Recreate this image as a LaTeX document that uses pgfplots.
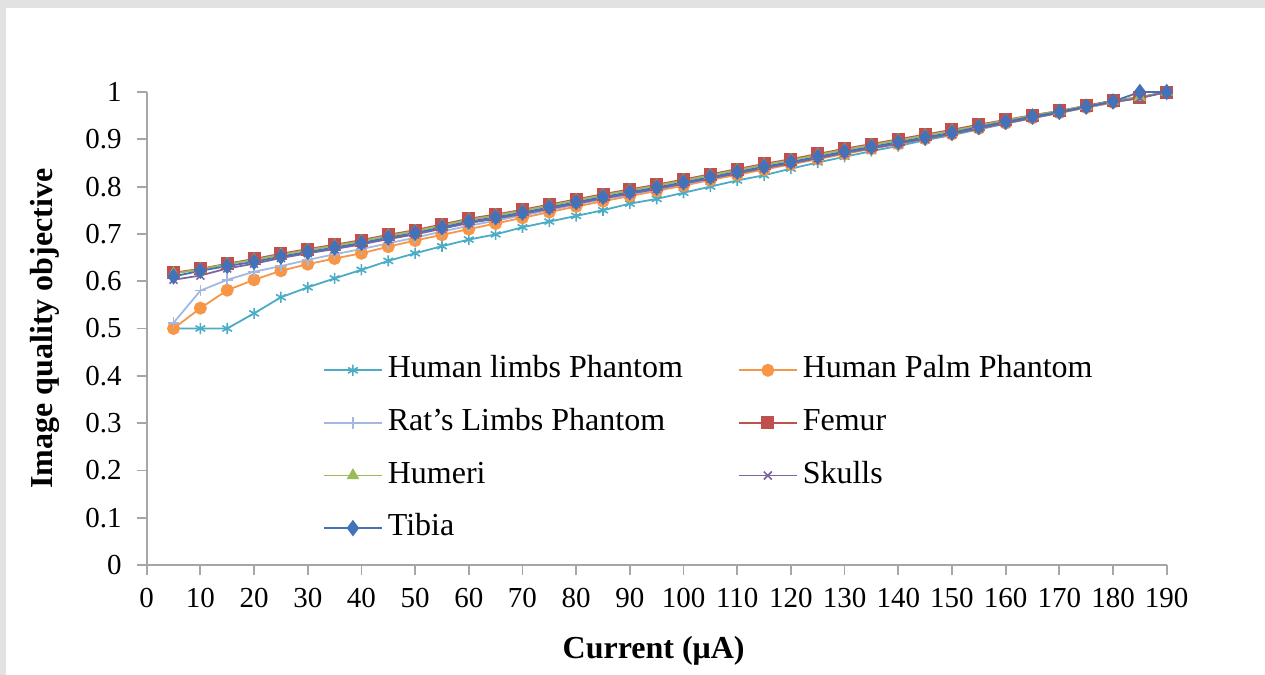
\documentclass[border=0pt]{standalone}
\usepackage{pgfplots}
\pgfplotsset{compat=1.18}
\usepackage{pgfplotstable}
\usepackage{fontspec}
\setmainfont{Liberation Serif}
\definecolor{cHL}{HTML}{4BACC6}
\definecolor{cHP}{HTML}{F79646}
\definecolor{cRat}{HTML}{A2B8E1}
\definecolor{cFem}{HTML}{C0504D}
\definecolor{cHum}{HTML}{9BBB59}
\definecolor{cSk}{HTML}{8064A2}
\definecolor{cTib}{HTML}{4472B8}
\definecolor{axgray}{HTML}{A6A6A6}
\definecolor{bordergray}{HTML}{E2E2E2}
\pgfplotstableread{
x   hl    hp    rat   fem   hum   sk    tib
5   0.500 0.500 0.512 0.618 0.616 0.603 0.610
10  0.500 0.543 0.580 0.626 0.625 0.612 0.622
15  0.500 0.581 0.603 0.637 0.636 0.627 0.632
20  0.532 0.603 0.620 0.647 0.645 0.637 0.641
25  0.566 0.622 0.632 0.658 0.656 0.649 0.652
30  0.587 0.636 0.645 0.668 0.666 0.659 0.662
35  0.606 0.648 0.657 0.677 0.675 0.668 0.671
40  0.624 0.659 0.668 0.687 0.685 0.678 0.681
45  0.643 0.673 0.680 0.698 0.696 0.689 0.692
50  0.659 0.686 0.692 0.708 0.706 0.699 0.702
55  0.674 0.698 0.705 0.720 0.718 0.711 0.714
60  0.688 0.710 0.717 0.732 0.730 0.723 0.726
65  0.699 0.722 0.728 0.741 0.739 0.732 0.735
70  0.714 0.734 0.739 0.751 0.749 0.742 0.745
75  0.726 0.746 0.750 0.762 0.760 0.753 0.756
80  0.738 0.758 0.762 0.773 0.771 0.764 0.767
85  0.750 0.769 0.773 0.784 0.782 0.775 0.778
90  0.764 0.780 0.783 0.794 0.792 0.785 0.788
95  0.774 0.791 0.794 0.804 0.802 0.795 0.798
100 0.787 0.802 0.805 0.815 0.813 0.806 0.809
105 0.800 0.814 0.816 0.826 0.824 0.817 0.820
110 0.813 0.825 0.828 0.837 0.835 0.828 0.831
115 0.824 0.836 0.840 0.848 0.846 0.839 0.842
120 0.838 0.847 0.850 0.858 0.856 0.849 0.852
125 0.851 0.858 0.861 0.869 0.867 0.860 0.863
130 0.863 0.869 0.872 0.880 0.878 0.871 0.874
135 0.875 0.880 0.882 0.890 0.888 0.881 0.884
140 0.886 0.890 0.892 0.900 0.898 0.891 0.894
145 0.898 0.901 0.902 0.910 0.908 0.901 0.904
150 0.909 0.911 0.912 0.920 0.918 0.911 0.914
155 0.921 0.923 0.924 0.931 0.929 0.923 0.926
160 0.933 0.934 0.935 0.941 0.940 0.934 0.937
165 0.945 0.945 0.946 0.951 0.950 0.945 0.948
170 0.956 0.956 0.957 0.960 0.960 0.956 0.958
175 0.967 0.967 0.968 0.971 0.970 0.968 0.969
180 0.978 0.978 0.979 0.982 0.981 0.979 0.980
185 0.988 0.988 0.988 0.989 0.989 0.987 1.000
190 1.000 1.000 1.000 1.000 1.000 1.000 1.000
}\datatable
\begin{document}
\begin{tikzpicture}
\begin{axis}[
  at={(0,0)}, anchor=south west,
  scale only axis, width=510pt, height=236.5pt,
  xmin=0, xmax=190, ymin=0, ymax=1,
  axis x line=bottom, axis y line=left,
  axis line style={draw=axgray, line width=0.9pt, -},
  xtick={0,10,...,190}, ytick={0,0.1,...,1.0},
  tick align=outside, major tick length=5pt,
  tick style={draw=axgray, line width=0.9pt},
  /pgf/number format/assume math mode=true,
  /pgf/number format/fixed,
  tick label style={font=\fontsize{14.5}{17}\selectfont},
  yticklabel style={xshift=-4pt},
  xticklabel style={yshift=-3pt},
  xlabel={\textbf{Current (μA)}},
  ylabel={\textbf{Image quality objective}},
  label style={font=\fontsize{16}{19}\selectfont},
  xlabel style={at={(axis description cs:0.497,-0.182)}, anchor=center},
  ylabel style={at={(axis description cs:-0.1,0.5)}, anchor=center},
  clip=false,
  every axis plot/.append style={line width=0.9pt, mark size=2.8pt},
  legend columns=2,
  legend cell align=left,
  legend image code/.code={\draw[mark repeat=2,mark phase=2] plot coordinates {(0pt,0pt) (14.5pt,0pt) (29pt,0pt)};},
  legend style={draw=none, fill=none, inner sep=0pt, font=\fontsize{16}{19}\selectfont,
    at={(axis description cs:0.1725,0.441)}, anchor=north west,
    nodes={inner sep=0pt, text height=10.5pt, text depth=3pt},
    row sep=12.8pt,
    /tikz/every odd column/.append style={column sep=2.5pt},
    /tikz/every even column/.append style={column sep=27.5pt}},
]
\addplot[color=cHL, mark=asterisk, mark options={line width=0.8pt}] table[x=x,y=hl]{\datatable};
\addlegendentry{Human limbs Phantom}
\addplot[color=cHP, mark=*, mark options={fill=cHP}] table[x=x,y=hp]{\datatable};
\addlegendentry{Human Palm Phantom}
\addplot[color=cRat, mark=+, mark options={line width=0.8pt}] table[x=x,y=rat]{\datatable};
\addlegendentry{Rat's Limbs Phantom}
\addplot[color=cFem, mark=square*, mark options={fill=cFem}] table[x=x,y=fem]{\datatable};
\addlegendentry{Femur}
\addplot[color=cHum, mark=triangle*, mark options={fill=cHum}] table[x=x,y=hum]{\datatable};
\addlegendentry{Humeri}
\addplot[color=cSk, mark=x, mark options={line width=0.8pt}] table[x=x,y=sk]{\datatable};
\addlegendentry{Skulls}
\addplot[color=cTib, mark=diamond*, mark size=3.4pt, mark options={fill=cTib}] table[x=x,y=tib]{\datatable};
\addlegendentry{Tibia}
\end{axis}
\pgfresetboundingbox
\path[use as bounding box] (-73.35pt,-55pt) rectangle (559.15pt,282.5pt);
\fill[bordergray] (-73.35pt,278.5pt) rectangle (559.15pt,282.5pt);
\fill[bordergray] (-73.35pt,-55pt) rectangle (-70.35pt,282.5pt);
\end{tikzpicture}
\end{document}
